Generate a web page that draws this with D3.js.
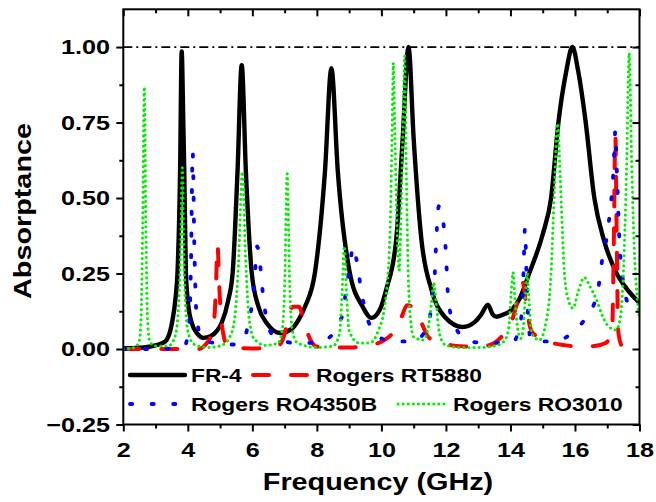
<!DOCTYPE html>
<html>
<head>
<meta charset="utf-8">
<script src="https://cdn.jsdelivr.net/npm/d3@7"></script>
<style>
  body { margin: 0; background: #fff; }
  text { font-family: "Liberation Sans", Arial, sans-serif; font-weight: bold; fill: #000; }
</style>
</head>
<body>
<svg id="chart" width="656" height="502"></svg>
<script>
// frequency (GHz), absorptance
let fr4 = [[2.0,0.002],[2.5,0.004],[3.0,0.012],[3.3,0.025],[3.51,0.087],[3.62,0.17],[3.68,0.253],[3.76,0.587],[3.81,0.985],[3.86,0.75],[3.89,0.587],[3.94,0.253],[4.02,0.14],[4.12,0.087],[4.3,0.05],[4.48,0.037],[4.7,0.042],[4.9,0.06],[5.05,0.087],[5.25,0.16],[5.39,0.253],[5.54,0.587],[5.67,0.94],[5.8,0.587],[5.98,0.253],[6.19,0.14],[6.45,0.085],[6.86,0.053],[7.2,0.065],[7.45,0.1],[7.63,0.14],[7.94,0.253],[8.25,0.587],[8.45,0.93],[8.65,0.587],[9.02,0.253],[9.42,0.14],[9.69,0.103],[9.95,0.13],[10.15,0.197],[10.46,0.363],[10.66,0.697],[10.84,1.0],[11.0,0.697],[11.24,0.363],[11.55,0.197],[11.96,0.107],[12.52,0.073],[12.9,0.09],[13.1,0.115],[13.3,0.147],[13.45,0.115],[13.57,0.107],[13.8,0.115],[14.07,0.133],[14.3,0.17],[14.59,0.253],[15.0,0.38],[15.26,0.5],[15.49,0.753],[15.73,0.92],[15.92,1.0],[16.1,0.92],[16.33,0.753],[16.6,0.5],[16.9,0.36],[17.28,0.253],[17.6,0.2],[18.0,0.153]];

let rt5880 = [[2.0,0.0],[3.0,0.0],[4.0,0.0],[4.35,0.0],[4.55,0.015],[4.72,0.045],[4.82,0.1],[4.87,0.2],[4.92,0.345],[4.97,0.22],[5.02,0.12],[5.1,0.05],[5.2,0.015],[5.4,0.003],[6.0,0.002],[6.6,0.003],[6.85,0.015],[7.0,0.05],[7.12,0.11],[7.25,0.14],[7.45,0.14],[7.6,0.09],[7.8,0.03],[8.0,0.008],[9.0,0.005],[9.6,0.012],[10.1,0.03],[10.4,0.06],[10.6,0.1],[10.8,0.145],[10.95,0.14],[11.1,0.12],[11.27,0.08],[11.45,0.04],[11.75,0.022],[12.2,0.012],[12.8,0.008],[13.2,0.01],[13.5,0.02],[13.8,0.05],[14.0,0.08],[14.2,0.15],[14.38,0.22],[14.52,0.12],[14.65,0.06],[14.85,0.04],[15.3,0.02],[15.7,0.012],[16.2,0.008],[16.6,0.01],[16.95,0.02],[17.15,0.06],[17.21,0.4],[17.25,0.71],[17.29,0.4],[17.34,0.06],[17.45,0.01],[17.55,0.0]];

let ro4350b = [[2.0,0.0],[2.5,0.0],[3.0,0.0],[3.5,0.002],[3.9,0.01],[3.97,0.03],[4.05,0.1],[4.1,0.3],[4.15,0.653],[4.2,0.35],[4.25,0.15],[4.3,0.087],[4.43,0.033],[4.8,0.02],[5.15,0.015],[5.5,0.015],[5.72,0.03],[5.85,0.07],[5.93,0.11],[6.02,0.177],[6.08,0.25],[6.15,0.34],[6.25,0.27],[6.32,0.19],[6.42,0.11],[6.6,0.05],[6.9,0.03],[7.3,0.02],[8.0,0.02],[8.5,0.05],[8.7,0.09],[8.81,0.12],[8.91,0.2],[9.02,0.27],[9.12,0.34],[9.22,0.3],[9.3,0.25],[9.37,0.19],[9.48,0.14],[9.6,0.09],[9.69,0.07],[10.0,0.035],[10.35,0.025],[11.0,0.025],[11.3,0.05],[11.44,0.08],[11.5,0.1],[11.55,0.16],[11.65,0.24],[11.7,0.36],[11.78,0.473],[11.89,0.446],[11.96,0.37],[12.01,0.3],[12.04,0.22],[12.09,0.148],[12.27,0.08],[12.5,0.04],[12.73,0.025],[13.3,0.02],[14.05,0.02],[14.25,0.06],[14.35,0.12],[14.4,0.24],[14.45,0.4],[14.5,0.24],[14.55,0.1],[14.64,0.03],[15.0,0.025],[15.36,0.025],[15.98,0.06],[16.25,0.09],[16.48,0.124],[16.72,0.2],[16.85,0.3],[17.0,0.38],[17.1,0.47],[17.17,0.55],[17.22,0.66],[17.25,0.724],[17.28,0.65],[17.3,0.58],[17.33,0.5],[17.35,0.43],[17.38,0.35],[17.43,0.28],[17.53,0.2],[17.7,0.14],[17.88,0.14],[18.0,0.13]];

let ro3010 = [[2.0,0.0],[2.3,0.004],[2.48,0.02],[2.55,0.1],[2.6,0.4],[2.65,0.867],[2.7,0.4],[2.75,0.1],[2.82,0.025],[3.0,0.01],[3.4,0.01],[3.6,0.04],[3.7,0.12],[3.77,0.3],[3.83,0.6],[3.88,0.3],[3.94,0.12],[4.02,0.05],[4.2,0.015],[4.6,0.005],[5.0,0.01],[5.3,0.04],[5.45,0.1],[5.57,0.28],[5.69,0.587],[5.79,0.3],[5.9,0.1],[6.05,0.035],[6.4,0.012],[6.8,0.02],[6.92,0.06],[7.0,0.2],[7.08,0.58],[7.16,0.2],[7.24,0.06],[7.4,0.02],[8.0,0.005],[8.5,0.01],[8.7,0.05],[8.78,0.18],[8.85,0.34],[8.92,0.18],[9.0,0.06],[9.3,0.02],[9.64,0.02],[9.9,0.06],[10.1,0.14],[10.26,0.363],[10.33,0.7],[10.37,0.947],[10.42,0.7],[10.5,0.35],[10.55,0.26],[10.62,0.5],[10.68,0.8],[10.72,0.97],[10.77,0.6],[10.83,0.25],[10.9,0.1],[11.0,0.04],[11.3,0.03],[11.45,0.07],[11.55,0.15],[11.62,0.22],[11.7,0.15],[11.8,0.05],[12.0,0.012],[12.5,0.005],[13.0,0.005],[13.5,0.01],[13.8,0.025],[13.95,0.07],[14.02,0.18],[14.08,0.253],[14.15,0.15],[14.25,0.05],[14.32,0.035],[14.4,0.07],[14.46,0.17],[14.52,0.25],[14.58,0.15],[14.66,0.05],[14.9,0.03],[15.1,0.087],[15.26,0.253],[15.36,0.52],[15.46,0.747],[15.56,0.52],[15.67,0.253],[15.8,0.16],[15.94,0.135],[16.1,0.19],[16.29,0.237],[16.45,0.21],[16.65,0.167],[16.85,0.11],[17.0,0.08],[17.27,0.063],[17.4,0.1],[17.5,0.25],[17.6,0.6],[17.68,0.98],[17.76,0.6],[17.85,0.3],[17.93,0.17],[18.0,0.1]];

let refLevel = 1.0;
let xMajor = [2, 4, 6, 8, 10, 12, 14, 16, 18],
    xMinor = [3, 5, 7, 9, 11, 13, 15, 17],
    yMajor = [-0.25, 0.00, 0.25, 0.50, 0.75, 1.00],
    yMinor = [-0.125, 0.125, 0.375, 0.625, 0.875];

let seriesNames = ["FR-4", "Rogers RT5880", "Rogers RO4350B", "Rogers RO3010"];

let plotLeft = 123.3, plotRight = 639.5, plotTop = 9.3, plotBottom = 424.5,
    stretch = 1.2; // text in the picture is drawn wide

let svg = d3.select("#chart");

let x = d3.scaleLinear().domain([2, 18]).range([plotLeft, plotRight]);
let y = d3.scaleLinear().domain([-0.25, 1.125]).range([plotBottom, plotTop]);

svg.append("defs").append("clipPath").attr("id", "plotclip")
    .append("rect")
    .attr("x", plotLeft).attr("y", plotTop)
    .attr("width", plotRight - plotLeft).attr("height", plotBottom - plotTop);

let styles = [
    { stroke: "#000000", width: 4.4, dash: null, cap: "round" },
    { stroke: "#ff0000", width: 4, dash: "16,22", cap: "round" },
    { stroke: "#0000ff", width: 3.8, dash: "2.2,19.4", cap: "round" },
    { stroke: "#00ee00", width: 3, dash: "0.1,5", cap: "round" }
];

let line = d3.line()
    .x(function (d) { return x(d[0]); })
    .y(function (d) { return y(d[1]); })
    .curve(d3.curveMonotoneX);

// reference line at 1.00
svg.append("line")
    .attr("x1", x(2)).attr("x2", x(18))
    .attr("y1", y(refLevel)).attr("y2", y(refLevel))
    .attr("stroke", "#000").attr("stroke-width", 1.8)
    .attr("stroke-dasharray", "9,4,2,4");

let curves = svg.append("g").attr("clip-path", "url(#plotclip)");
[fr4, rt5880, ro4350b, ro3010].forEach(function (data, i) {
    let s = styles[i];
    curves.append("path")
        .datum(data)
        .attr("d", line)
        .attr("fill", "none")
        .attr("stroke", s.stroke)
        .attr("stroke-width", s.width)
        .attr("stroke-linecap", s.cap)
        .attr("stroke-linejoin", "round")
        .attr("stroke-dasharray", s.dash);
});

// axes
function styleAxis(g) {
    g.select(".domain").remove();
    g.selectAll(".tick line").attr("stroke", "#000").attr("stroke-width", 2);
}
function styleLabels(g) {
    g.selectAll("text").attr("font-size", 21).attr("transform", "scale(" + stretch + ",1)")
        .style("font-family", "'Liberation Sans', Arial, sans-serif").style("font-weight", "bold");
}

svg.append("g").attr("transform", "translate(0," + plotBottom + ")")
    .call(d3.axisBottom(x).tickValues(xMajor).tickSize(7).tickPadding(10.5).tickFormat(d3.format("d")))
    .call(styleAxis).call(styleLabels);
svg.append("g").attr("transform", "translate(0," + plotBottom + ")")
    .call(d3.axisBottom(x).tickValues(xMinor).tickSize(4).tickFormat(""))
    .call(styleAxis);

svg.append("g").attr("transform", "translate(" + plotLeft + ",0)")
    .call(d3.axisLeft(y).tickValues(yMajor).tickSize(7).tickPadding(4).tickFormat(d3.format(".2f")))
    .call(styleAxis).call(styleLabels);
svg.append("g").attr("transform", "translate(" + plotLeft + ",0)")
    .call(d3.axisLeft(y).tickValues(yMinor).tickSize(4).tickFormat(""))
    .call(styleAxis);

// top and right ticks point inward
svg.append("g").attr("transform", "translate(0," + plotTop + ")")
    .call(d3.axisBottom(x).tickValues(xMajor).tickSize(7).tickFormat(""))
    .call(styleAxis);
svg.append("g").attr("transform", "translate(0," + plotTop + ")")
    .call(d3.axisBottom(x).tickValues(xMinor).tickSize(4).tickFormat(""))
    .call(styleAxis);
svg.append("g").attr("transform", "translate(" + plotRight + ",0)")
    .call(d3.axisLeft(y).tickValues(yMajor).tickSize(7).tickFormat(""))
    .call(styleAxis);
svg.append("g").attr("transform", "translate(" + plotRight + ",0)")
    .call(d3.axisLeft(y).tickValues(yMinor).tickSize(4).tickFormat(""))
    .call(styleAxis);

svg.append("rect")
    .attr("x", plotLeft).attr("y", plotTop)
    .attr("width", plotRight - plotLeft).attr("height", plotBottom - plotTop)
    .attr("fill", "none").attr("stroke", "#000").attr("stroke-width", 2);

// axis titles
svg.append("text")
    .attr("transform", "translate(378,490) scale(" + stretch + ",1)")
    .attr("text-anchor", "middle").attr("font-size", 24)
    .text("Frequency (GHz)");
svg.append("text")
    .attr("transform", "translate(31,211) rotate(-90) scale(" + stretch + ",1)")
    .attr("text-anchor", "middle").attr("font-size", 24)
    .text("Absorptance");

// legend
let legendItems = [
    { x1: 130, x2: 185, y: 375, tx: 191 },
    { x1: 253, x2: 310, y: 375, tx: 316 },
    { x1: 130, x2: 182, y: 404, tx: 191 },
    { x1: 398, x2: 448, y: 404, tx: 453 }
];
let legend = svg.append("g");
legendItems.forEach(function (it, i) {
    let s = styles[i];
    legend.append("line")
        .attr("x1", it.x1).attr("x2", it.x2)
        .attr("y1", it.y).attr("y2", it.y)
        .attr("stroke", s.stroke)
        .attr("stroke-width", s.width)
        .attr("stroke-linecap", s.cap)
        .attr("stroke-dasharray", s.dash);
    legend.append("text")
        .attr("transform", "translate(" + it.tx + "," + (it.y + 7) + ") scale(" + stretch + ",1)")
        .attr("font-size", 19)
        .text(seriesNames[i]);
});
</script>
</body>
</html>
